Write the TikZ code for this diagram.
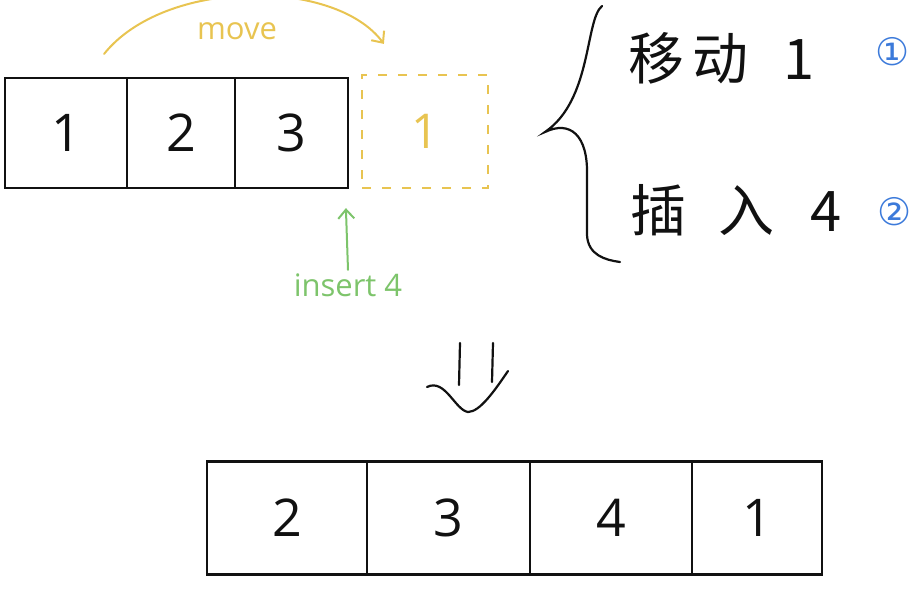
\documentclass[tikz,border=0pt]{standalone}
\usepackage{fontspec}
\setmainfont{Open Sans}
\newfontfamily\cjk{Noto Sans CJK SC}
\newfontfamily\circfont{DejaVu Sans}
\usetikzlibrary{arrows.meta,positioning,calc}
\definecolor{ink}{HTML}{111111}
\definecolor{gold}{HTML}{E8C451}
\definecolor{leaf}{HTML}{7DC46B}
\definecolor{sky}{HTML}{3C7ADA}
\tikzset{
  cell/.style={draw=ink,line width=2.2pt,minimum height=110pt,inner sep=0pt,font=\fontsize{52}{56}\selectfont,text=ink},
  ghost/.style={draw=gold,line width=2.2pt,dash pattern=on 9pt off 11pt,minimum height=113pt,minimum width=126pt,inner sep=0pt,font=\fontsize{48}{52}\selectfont,text=gold},
  hand/.style={draw=ink,line width=2.2pt,line cap=round},
  movearr/.style={draw=gold,line width=2pt,line cap=round,-{Straight Barb[length=9pt,width=16pt]}},
  insarr/.style={draw=leaf,line width=2pt,line cap=round,-{Straight Barb[length=9pt,width=16pt]}},
  tag/.style={font=\fontsize{31}{34}\selectfont},
  stepnote/.style={font=\cjk\fontsize{56}{60}\selectfont,text=ink,anchor=west,inner sep=0pt},
  num/.style={font=\circfont\fontsize{38}{42}\selectfont,text=sky},
}
\begin{document}
\begin{tikzpicture}[x=1pt,y=-1pt]
\useasboundingbox (0,0) rectangle (924,590);
\node[cell,minimum width=122pt] (a1) at (66,133) {1};
\node[cell,minimum width=108pt] (a2) at (181,133) {2};
\node[cell,minimum width=113pt] (a3) at (291.5,133) {3};
\node[ghost] (g1) at (425,131.5) {1};
\node[tag,text=gold] (mv) at (237,31) {move};
\coordinate (ms) at ($(a1.north east)+(-24,-23)$);
\coordinate (me) at ($(g1.north west)+(23,-30)$);
\draw[movearr] (ms) .. controls (165,-22) and (335,-22) .. (me);
\node[tag,text=leaf] (ins) at (348,285) {insert 4};
\coordinate (ie) at ($(g1.south west)+(-15,19)$);
\draw[insarr] (ins.north) -- (ie);
\draw[hand] (602,6) .. controls (585,20) and (592,100) .. (545,132) .. controls (570,120) and (588,135) .. (587,175) -- (587,235) .. controls (588,255) and (605,260) .. (620,262);
\node[stepnote] (s1) at (628,58) {移\hspace{8pt}动\hspace{35pt}1};
\node[stepnote] (s2) at (630,210) {插\hspace{32pt}入\hspace{36pt}4};
\node[num] (n1) at (893,52) {①};
\node[num] (n2) at (895,212) {②};
\draw[hand] (460,343) -- (459,385);
\draw[hand] (493,343) -- (492,382);
\draw[hand] (427,387) .. controls (445,378) and (455,410) .. (468,412) .. controls (480,412) and (495,390) .. (508,371);
\node[cell,minimum width=160pt,minimum height=113pt] (b1) at (287,518) {2};
\node[cell,minimum width=163pt,minimum height=113pt] (b2) at (448.5,518) {3};
\node[cell,minimum width=162pt,minimum height=113pt] (b3) at (611,518) {4};
\node[cell,minimum width=130pt,minimum height=113pt] (b4) at (757,518) {1};
\end{tikzpicture}
\end{document}
